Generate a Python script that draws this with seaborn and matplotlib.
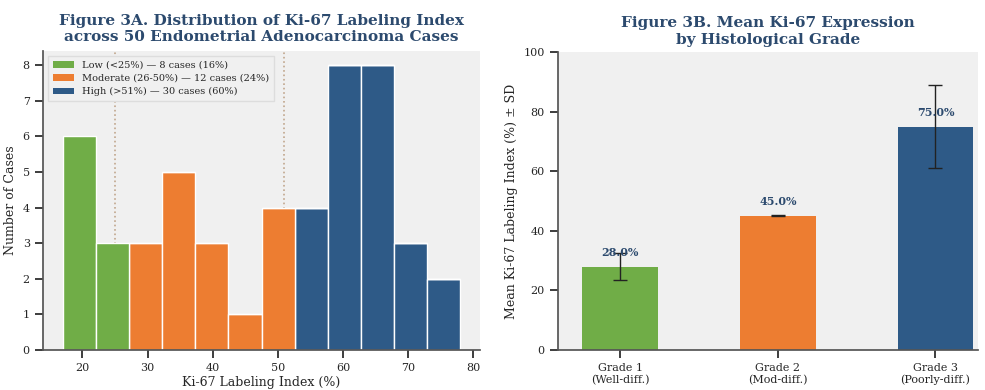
import numpy as np
import pandas as pd
import matplotlib
matplotlib.use("Agg")
import matplotlib.pyplot as plt
from matplotlib.patches import Patch
import seaborn as sns

# --- Figure 3A data: Ki-67 labeling index histogram (12 bins, 17-78 %) ---
ki67_min, ki67_max, n_bins = 17.0, 78.0, 12
bin_counts = [6, 3, 3, 5, 3, 1, 4, 4, 8, 8, 3, 2]
bin_groups = ["Low", "Low", "Moderate", "Moderate", "Moderate", "Moderate",
              "Moderate", "High", "High", "High", "High", "High"]
group_labels = ["Low (<25%) \u2014 8 cases (16%)",
                "Moderate (26-50%) \u2014 12 cases (24%)",
                "High (>51%) \u2014 30 cases (60%)"]
cutoffs = [25, 51]

# --- Figure 3B data: mean Ki-67 by histological grade ---
grades = ["Grade 1\n(Well-diff.)", "Grade 2\n(Mod-diff.)", "Grade 3\n(Poorly-diff.)"]
grade_means = [28.0, 45.0, 75.0]
grade_sds = [4.5, 0.2, 14.0]

colors = {"Low": "#70ad47", "Moderate": "#ed7d31", "High": "#2e5a87"}
title_color = "#2c4a6e"

sns.set_theme(style="ticks")
plt.rcParams["font.family"] = ["DejaVu Serif"]
plt.rcParams["axes.facecolor"] = "#f0f0f0"
plt.rcParams["axes.edgecolor"] = "#555555"
plt.rcParams["xtick.labelsize"] = 8
plt.rcParams["ytick.labelsize"] = 8

fig = plt.figure(figsize=(9.85, 3.9), dpi=100)
ax1 = fig.add_axes([0.0437, 0.1026, 0.4437, 0.767])
ax2 = fig.add_axes([0.5665, 0.1026, 0.4264, 0.764])

# Histogram built from binned counts
edges = np.linspace(ki67_min, ki67_max, n_bins + 1)
centers = (edges[:-1] + edges[1:]) / 2
hist_df = pd.DataFrame({"ki67": centers, "count": bin_counts, "group": bin_groups})
sns.histplot(data=hist_df, x="ki67", weights="count", bins=n_bins,
             binrange=(ki67_min, ki67_max), hue="group",
             hue_order=["Low", "Moderate", "High"], palette=colors,
             multiple="stack", alpha=1, edgecolor="white", linewidth=1,
             legend=False, ax=ax1)
for c in cutoffs:
    ax1.axvline(c, color="#b59474", linestyle=":", linewidth=1.2, alpha=0.8, zorder=0.5)

handles = [Patch(facecolor=colors[g], edgecolor="none") for g in ["Low", "Moderate", "High"]]
leg = ax1.legend(handles, group_labels, loc="upper left", fontsize=7, frameon=True,
                 fancybox=False, framealpha=1, edgecolor="#dddddd",
                 borderpad=0.5, handlelength=2.2, labelspacing=0.45)
ax1.set_xlabel("Ki-67 Labeling Index (%)", fontsize=9, labelpad=2)
ax1.set_ylabel("Number of Cases", fontsize=9)
ax1.set_title("Figure 3A. Distribution of Ki-67 Labeling Index\nacross 50 Endometrial Adenocarcinoma Cases",
              fontsize=11, fontweight="bold", color=title_color, pad=7)
ax1.set_xticks([20, 30, 40, 50, 60, 70, 80])
sns.despine(ax=ax1)

# Mean Ki-67 per grade with SD error bars
bar_df = pd.DataFrame({"grade": grades, "mean": grade_means})
sns.barplot(data=bar_df, x="grade", y="mean", hue="grade", palette=list(colors.values()),
            saturation=1, width=0.48, linewidth=0, legend=False, ax=ax2)
ax2.errorbar(np.arange(len(grades)), grade_means, yerr=grade_sds, fmt="none",
             ecolor="#222222", elinewidth=1, capsize=5, capthick=1)
for i, m in enumerate(grade_means):
    ax2.text(i, m + 3, f"{m:.1f}%", ha="center", va="bottom", fontsize=8,
             fontweight="bold", color=title_color)
ax2.set_ylim(0, 100)
ax2.set_xlim(-0.395, 2.27)
ax2.set_xlabel("")
ax2.set_ylabel("Mean Ki-67 Labeling Index (%) \u00b1 SD", fontsize=9)
ax2.set_title("Figure 3B. Mean Ki-67 Expression\nby Histological Grade",
              fontsize=11, fontweight="bold", color=title_color, pad=6)
sns.despine(ax=ax2)

fig.savefig("out.png", dpi=100)
